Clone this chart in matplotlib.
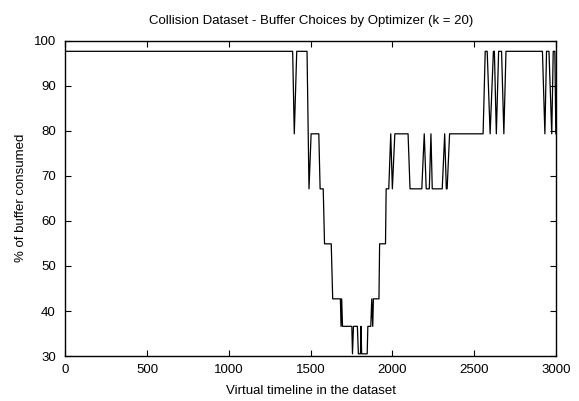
import matplotlib.pyplot as plt

plt.rcParams['font.family'] = ['Liberation Sans', 'DejaVu Sans']

# timeline positions and buffer level chosen (% of buffer consumed)
timeline = [0, 1390, 1400, 1415, 1478, 1490, 1503, 1550, 1558, 1577,
            1585, 1626, 1635, 1682, 1686, 1690, 1695, 1752, 1756, 1762,
            1786, 1792, 1805, 1808, 1812, 1846, 1850, 1868, 1874, 1880,
            1884, 1918, 1922, 1958, 1962, 1978, 1990, 2000, 2015, 2096,
            2108, 2180, 2195, 2207, 2226, 2236, 2244, 2305, 2320, 2330,
            2335, 2350, 2555, 2568, 2580, 2598, 2618, 2624, 2636, 2650,
            2668, 2682, 2695, 2918, 2933, 2943, 2958, 2975, 2984, 2994,
            3000]
buffer_pct = [97.6, 97.6, 79.3, 97.6, 97.6, 67.1, 79.3, 79.3, 67.1, 67.1,
              54.9, 54.9, 42.7, 42.7, 36.6, 42.7, 36.6, 36.6, 30.5, 36.6,
              36.6, 30.5, 30.5, 36.6, 30.5, 30.5, 36.6, 36.6, 42.7, 36.6,
              42.7, 42.7, 54.9, 54.9, 67.1, 67.1, 79.3, 67.1, 79.3, 79.3,
              67.1, 67.1, 79.3, 67.1, 67.1, 79.3, 67.1, 67.1, 79.3, 67.1,
              67.1, 79.3, 79.3, 97.6, 97.6, 79.3, 97.6, 97.6, 79.3, 97.6,
              97.6, 79.3, 97.6, 97.6, 79.3, 97.6, 97.6, 79.3, 97.6, 97.6,
              79.3]

xticks = [0, 500, 1000, 1500, 2000, 2500, 3000]
yticks = [30, 40, 50, 60, 70, 80, 90, 100]

fig = plt.figure(figsize=(5.79, 4.01), dpi=100)
ax = fig.add_axes([0.113, 0.112, 0.847, 0.787])

ax.plot(timeline, buffer_pct, color='black', linewidth=0.9)

ax.set_xlim(0, 3000)
ax.set_ylim(30, 100)
ax.set_xticks(xticks)
ax.set_yticks(yticks)
ax.tick_params(direction='in', length=4, width=0.8, top=True, right=True,
               labelsize=9.5)
ax.tick_params(axis='x', pad=6)
ax.tick_params(axis='y', pad=7)
for s in ax.spines.values():
    s.set_linewidth(1.0)

ax.set_title('Collision Dataset - Buffer Choices by Optimizer (k = 20)', fontsize=9.5, pad=12)
ax.set_xlabel('Virtual timeline in the dataset', fontsize=9.5, labelpad=6)
ax.set_ylabel('% of buffer consumed', fontsize=9.5, labelpad=5)

fig.savefig('out.png', dpi=100)
